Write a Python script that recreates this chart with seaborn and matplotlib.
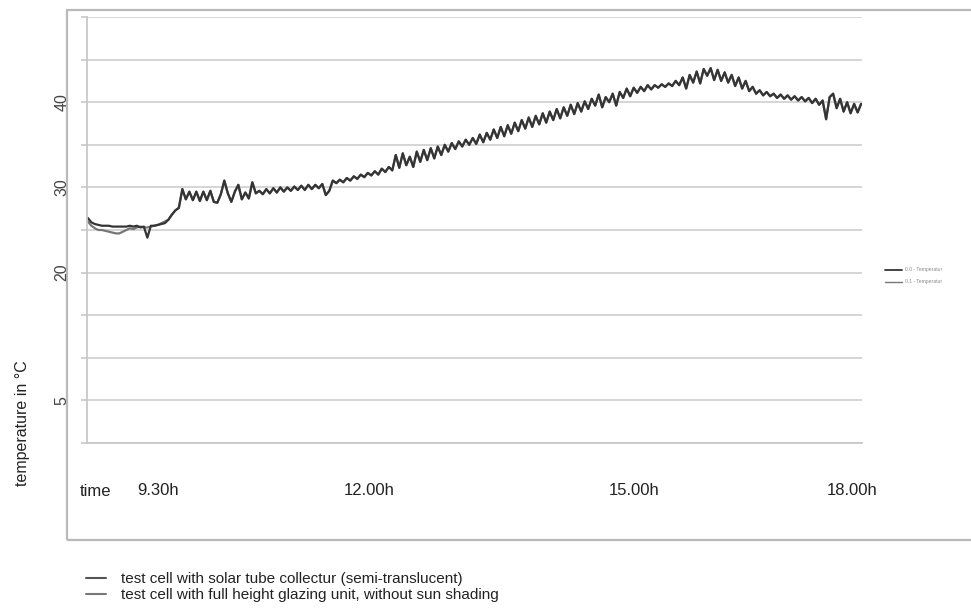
import numpy as np
import pandas as pd
import matplotlib
matplotlib.use("Agg")
import matplotlib.pyplot as plt
import seaborn as sns
from matplotlib.patches import Rectangle
from matplotlib.lines import Line2D

# ---------------- data ----------------
temp_00 = [
    26.4, 25.9, 25.7, 25.6, 25.5, 25.5, 25.5, 25.4, 25.4, 25.4,
    25.4, 25.4, 25.5, 25.4, 25.5, 25.3, 25.4, 24.1, 25.5, 25.5,
    25.6, 25.7, 25.8, 26.2, 26.8, 27.3, 27.6, 29.8, 28.6, 29.5,
    28.5, 29.5, 28.4, 29.5, 28.5, 29.6, 28.3, 28.2, 29.2, 30.8,
    29.3, 28.3, 29.5, 30.3, 28.6, 29.4, 28.7, 30.6, 29.3, 29.6,
    29.2, 29.8, 29.3, 29.9, 29.4, 30.0, 29.5, 30.0, 29.6, 30.1,
    29.7, 30.2, 29.7, 30.3, 29.8, 30.3, 29.9, 30.4, 29.1, 29.6,
    30.8, 30.5, 30.9, 30.6, 31.1, 30.8, 31.3, 31.0, 31.5, 31.2,
    31.7, 31.4, 31.9, 31.5, 32.2, 31.8, 32.4, 32.0, 33.8, 32.3,
    34.0, 32.6, 33.6, 32.4, 34.2, 33.0, 34.4, 33.2, 34.6, 33.4,
    34.8, 33.8, 35.0, 34.2, 35.2, 34.5, 35.4, 34.8, 35.6, 35.0,
    35.8, 35.1, 36.2, 35.3, 36.4, 35.6, 36.8, 35.8, 37.1, 36.0,
    37.3, 36.3, 37.6, 36.6, 37.9, 36.9, 38.2, 37.1, 38.4, 37.4,
    38.7, 37.6, 38.9, 37.9, 39.2, 38.1, 39.4, 38.4, 39.7, 38.6,
    39.9, 38.9, 40.1, 39.2, 40.4, 39.6, 40.9, 39.4, 40.6, 40.0,
    41.0, 39.6, 41.2, 40.5, 41.6, 40.7, 41.7, 41.1, 41.8, 41.3,
    42.0, 41.5, 42.0, 41.7, 42.1, 41.8, 42.2, 41.9, 42.5, 42.0,
    42.9, 41.6, 43.2, 42.3, 43.6, 42.2, 43.9, 43.1, 44.0, 42.6,
    43.8, 42.5, 43.5, 42.3, 43.2, 41.9, 42.9, 41.6, 42.5, 41.3,
    41.8, 41.0, 41.4, 40.8, 41.2, 40.7, 41.0, 40.5, 40.9, 40.4,
    40.8, 40.3, 40.7, 40.2, 40.6, 40.1, 40.5, 39.9, 40.4, 39.7,
    40.2, 38.0, 40.6, 41.0, 39.3, 40.4, 38.9, 40.0, 38.7, 39.8,
    38.8, 39.8,
]
temp_01_start = [
    26.0, 25.5, 25.2, 25.0, 25.0, 24.9, 24.8, 24.7, 24.6, 24.6,
    24.8, 25.0, 25.2, 25.1, 25.3, 25.4, 25.3, 25.3, 25.4, 25.5,
    25.6, 25.8, 26.0,
]
temp_01 = temp_01_start + temp_00[len(temp_01_start):]

series_names = ["0.0 - Temperatur", "0.1 - Temperatur"]
legend_texts = ["test cell with solar tube collectur (semi-translucent)",
                "test cell with full height glazing unit, without sun shading"]
y_grid_values = list(range(0, 51, 5))
y_label_values = [40, 30, 20, 5]
x_tick_labels = ["9.30h", "12.00h", "15.00h", "18.00h"]
x_tick_times = [9.60, 12.0, 15.0, 17.47]
t_start, t_end = 8.81, 17.57

times = np.linspace(t_start, t_end, len(temp_00))
df = pd.concat([
    pd.DataFrame({"time": times, "temp": temp_00, "series": series_names[0]}),
    pd.DataFrame({"time": times, "temp": temp_01, "series": series_names[1]}),
])

# ---------------- style ----------------
sns.set_theme(style="white")
plt.rcParams['font.family'] = ['Liberation Sans', 'DejaVu Sans']

W, H = 971, 614
fig = plt.figure(figsize=(W / 100, H / 100), dpi=100)
fig.patch.set_facecolor("white")

# outer chart frame
frame = Rectangle((67 / W, 1 - 540 / H), (W + 10 - 67) / W, (540 - 10) / H,
                  transform=fig.transFigure, fill=False,
                  edgecolor="#b9b9b9", lw=1.6, zorder=-5)
fig.patches.append(frame)

ax = fig.add_axes([87 / W, 1 - 443 / H, (862 - 87) / W, (443 - 17) / H])
ax.set_facecolor("none")

dark = "#353535"
light = "#777777"
sns.lineplot(data=df, x="time", y="temp", hue="series",
             hue_order=[series_names[1], series_names[0]],
             palette={series_names[0]: dark, series_names[1]: light},
             lw=1.6, ax=ax, legend=False)

ax.set_xlim(t_start - 0.01, t_end + 0.01)
ax.set_ylim(0, 50)
ax.set_yticks(y_grid_values)
ax.set_yticklabels([str(v) if v in y_label_values else "" for v in y_grid_values])
ax.yaxis.grid(True, color="#d2d2d2", lw=1.3)
ax.xaxis.grid(False)
ax.set_xticks(x_tick_times)
ax.set_xticklabels(x_tick_labels)
ax.tick_params(axis="y", left=True, length=4, width=1.2, color="#c8c8c8",
               labelrotation=90, labelsize=11.5, labelcolor="#444444", pad=8.5)
ax.tick_params(axis="x", bottom=False, length=0, labelsize=12,
               labelcolor="#222222", pad=29)
for lab in ax.get_yticklabels():
    lab.set_va("center")
ax.set_xlabel("")
ax.set_ylabel("")
for s in ["top", "right"]:
    ax.spines[s].set_visible(False)
for s in ["left", "bottom"]:
    ax.spines[s].set_color("#c8c8c8")
    ax.spines[s].set_linewidth(1.3)

fig.text(80 / W, 1 - 491 / H, "time", fontsize=12, color="#222222",
         ha="left", va="center")
fig.text(23 / W, 1 - 423 / H, "temperature in °C", fontsize=11.5,
         color="#222222", rotation=90, ha="center", va="center")

# small legend inside the frame (right)
small_handles = [Line2D([], [], color=dark, lw=1.3),
                 Line2D([], [], color=light, lw=1.0)]
fig.legend(small_handles, series_names, loc="center left",
           bbox_to_anchor=(880 / W, 1 - 276 / H), frameon=False,
           fontsize=3.6, handlelength=3.5, handletextpad=0.6,
           labelspacing=1.4, labelcolor="#8a8a8a")

# descriptive legend below
big_handles = [Line2D([], [], color="#555555", lw=1.5),
               Line2D([], [], color="#777777", lw=1.5)]
fig.legend(big_handles, legend_texts, loc="upper left",
           bbox_to_anchor=(80 / W, 1 - 566 / H), frameon=False,
           fontsize=11, handlelength=1.3, handletextpad=1.0,
           labelspacing=0.12, labelcolor="#222222", borderaxespad=0)

fig.savefig("out.png", dpi=100)
